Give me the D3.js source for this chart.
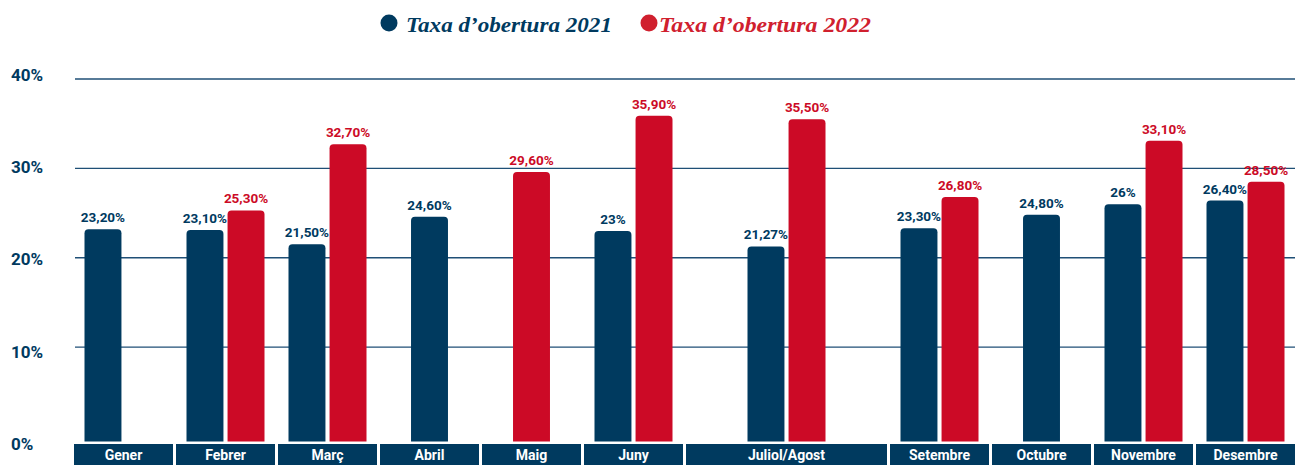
<!DOCTYPE html>
<html>
<head>
<meta charset="utf-8">
<script src="https://cdn.jsdelivr.net/npm/d3@7"></script>
<style>
  body { margin: 0; background: #fff; }
  svg { display: block; font-family: Roboto, "Noto Sans", sans-serif; }
</style>
</head>
<body>
<svg id="chart" width="1295" height="465"></svg>
<script>
// dades del gràfic
var months = ["Gener", "Febrer", "Març", "Abril", "Maig", "Juny", "Juliol/Agost",
              "Setembre", "Octubre", "Novembre", "Desembre"];
var series = ["2021", "2022"];
var rate2021 = [23.20, 23.10, 21.50, 24.60, null, 23, 21.27, 23.30, 24.80, 26, 26.40];
var rate2022 = [null, 25.30, 32.70, null, 29.60, 35.90, 35.50, 26.80, null, 33.10, 28.50];
var yTicks = [0, 10, 20, 30, 40];
var legendLabels = ["Taxa d’obertura 2021", "Taxa d’obertura 2022"];

// juliol/agost ocupa dues columnes, gener conserva el lloc de la barra 2022
var wideMonths = ["Juliol/Agost"];
var keepSlot = ["Gener"];

var colors = { "2021": "#003a5f", "2022": "#cc0a26" };

var svg = d3.select("#chart"),
    width = +svg.attr("width"),
    height = +svg.attr("height");

// posicions de cada mes en "slots"
var slotStart = [], s = 0;
months.forEach(function(m) {
  slotStart.push(s);
  s += wideMonths.indexOf(m) >= 0 ? 2 : 1;
});
var x = d3.scaleLinear().domain([0, s]).range([74, 1298]);
var y = d3.scaleLinear().domain([0, 40]).range([436.5, 79]);
var yLab = d3.scaleLinear().domain([0, 40]).range([444, 75]); // etiquetes de l'eix
var inner = d3.scaleBand().domain(series).range([-39, 39]).paddingInner(0.1);

function fmt(v) {
  var t = Number.isInteger(v) ? String(v) : v.toFixed(2);
  return t.replace(".", ",") + "%";
}

// línies de graella
svg.append("g")
  .selectAll("line")
  .data(yTicks.filter(function(d) { return d > 0; }))
  .enter().append("line")
  .attr("x1", 75).attr("x2", width)
  .attr("y1", function(d) { return y(d); })
  .attr("y2", function(d) { return y(d); })
  .attr("stroke", "#1f4f76")
  .attr("stroke-width", 1.3);

// etiquetes eix Y
svg.append("g")
  .selectAll("text")
  .data(yTicks)
  .enter().append("text")
  .attr("x", 11)
  .attr("y", function(d) { return yLab(d); })
  .attr("dy", "0.35em")
  .attr("fill", "#003a5f")
  .attr("font-size", 17)
  .attr("font-weight", 700)
  .text(function(d) { return d + "%"; });

// barres
var bars = [];
months.forEach(function(m, i) {
  var vals = { "2021": rate2021[i], "2022": rate2022[i] };
  var present = series.filter(function(k) { return vals[k] != null; });
  var x0 = x(slotStart[i]), x1 = x(slotStart[i] + (wideMonths.indexOf(m) >= 0 ? 2 : 1)) - 3;
  var cx = (x0 + x1) / 2;
  present.forEach(function(k) {
    var left;
    if (present.length === 1 && keepSlot.indexOf(m) < 0) left = cx - inner.bandwidth() / 2;
    else left = cx + inner(k);
    bars.push({ month: m, key: k, value: vals[k], x: left });
  });
});

function barPath(d) {
  var w = inner.bandwidth(), r = 4;
  var top = y(d.value), bot = y(0) + 5;
  return "M" + d.x + "," + bot +
    "V" + (top + r) + "Q" + d.x + "," + top + " " + (d.x + r) + "," + top +
    "H" + (d.x + w - r) + "Q" + (d.x + w) + "," + top + " " + (d.x + w) + "," + (top + r) +
    "V" + bot + "Z";
}

svg.append("g")
  .selectAll("path")
  .data(bars)
  .enter().append("path")
  .attr("d", barPath)
  .attr("fill", function(d) { return colors[d.key]; });

svg.append("g")
  .selectAll("text")
  .data(bars)
  .enter().append("text")
  .attr("x", function(d) { return d.x + inner.bandwidth() / 2; })
  .attr("y", function(d) { return y(d.value) - 7; })
  .attr("text-anchor", "middle")
  .attr("font-size", 13.5)
  .attr("font-weight", 700)
  .attr("fill", function(d) { return colors[d.key]; })
  .text(function(d) { return fmt(d.value); });

// caixes dels mesos
var cat = svg.append("g")
  .selectAll("g")
  .data(months)
  .enter().append("g");

cat.append("rect")
  .attr("x", function(d, i) { return x(slotStart[i]); })
  .attr("y", 444)
  .attr("width", function(d, i) {
    return x(slotStart[i] + (wideMonths.indexOf(d) >= 0 ? 2 : 1)) - x(slotStart[i]) - 3;
  })
  .attr("height", 21)
  .attr("fill", "#003a5f");

cat.append("text")
  .attr("x", function(d, i) {
    return (x(slotStart[i]) + x(slotStart[i] + (wideMonths.indexOf(d) >= 0 ? 2 : 1)) - 3) / 2;
  })
  .attr("y", 460)
  .attr("text-anchor", "middle")
  .attr("font-size", 14)
  .attr("font-weight", 700)
  .attr("fill", "#fff")
  .text(function(d) { return d; });

// llegenda
var legendX = [389, 649];
var legendW = [206, 212];
var leg = svg.append("g")
  .selectAll("g")
  .data(series)
  .enter().append("g");

leg.append("circle")
  .attr("cx", function(d, i) { return legendX[i]; })
  .attr("cy", 23)
  .attr("r", 8.5)
  .attr("fill", function(d) { return d === "2022" ? "#d0202e" : colors[d]; });

leg.append("text")
  .attr("x", function(d, i) { return legendX[i] + (i === 0 ? 17 : 10); })
  .attr("y", 32)
  .attr("font-family", "'Liberation Serif', serif")
  .attr("font-style", "italic")
  .attr("font-weight", 700)
  .attr("font-size", 22)
  .attr("textLength", function(d, i) { return legendW[i]; })
  .attr("lengthAdjust", "spacingAndGlyphs")
  .attr("fill", function(d) { return d === "2022" ? "#d0202e" : colors[d]; })
  .text(function(d, i) { return legendLabels[i]; });
</script>
</body>
</html>
